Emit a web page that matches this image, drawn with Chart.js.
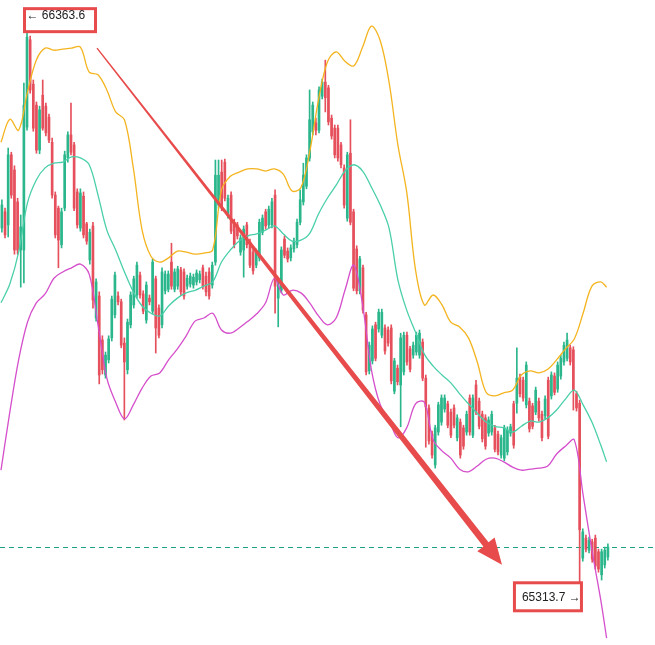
<!DOCTYPE html>
<html><head><meta charset="utf-8">
<script src="https://cdn.jsdelivr.net/npm/chart.js@4/dist/chart.umd.min.js"></script>
<style>html,body{margin:0;padding:0;background:#fff;}#wrap{width:655px;height:645px;position:relative;}</style>
</head><body><div id="wrap"><canvas id="c"></canvas></div>
<script>
// ---- candle data (price) ----
const opens = [65991,66022,65997,66131,66102,66041,65949,65949,66184,66351,66266,66226,66140,66245,66224,66203,66155,66054,66029,65959,66029,66125,66169,66150,66060,65991,66052,65999,65930,65995,65819,65861,65777,65710,65739,65781,65825,65861,65850,65771,65720,65806,65844,65863,65901,65865,65815,65857,65832,65894,65838,65806,65871,65874,65926,65874,65880,65911,65907,65880,65884,65882,65888,65892,65915,65899,65907,65882,65926,66035,66098,66117,66016,66054,66002,65997,65945,65949,65997,65964,65945,65920,65934,65983,66022,65997,65997,66054,65857,65872,65970,65947,65934,65951,65959,66002,66041,66071,66125,66175,
66192,66178,66243,66270,66259,66201,66182,66182,66150,66106,66010,66134,66022,65951,65871,65915,65825,65718,65737,65806,65798,65786,65800,65796,65800,65679,65723,65691,65716,65786,65760,65748,65754,65748,65773,65704,65647,65597,65538,65601,65620,65645,65655,65639,65647,65590,65620,65609,65601,65666,65595,65691,65660,65635,65628,65599,65601,65609,65597,65557,65551,65563,65599,65655,65656,65706,65700,65653,65660,65651,65639,65660,65635,65632,65700,65670,65708,65683,65708,65735,65742,65762,65758,65674,65656,65360,65398,65375,65391,65398,65372,65328,65347,65362];
const highs = [66045,66029,66144,66136,66110,66048,66016,66268,66363.6,66358,66274,66232,66224,66274,66230,66209,66163,66060,66033,66029,66138,66175,66230,66155,66066,66066,66060,66002,65989,66002,65894,65869,65785,65754,65785,65861,65907,65869,65855,65781,65817,65869,65899,65926,65907,65871,65888,65863,65932,65899,65844,65915,65909,65909,65962,65913,65918,65916,65913,65901,65905,65903,65911,65909,65920,65907,65915,65926,66121,66121,66121,66123,66054,66060,66008,66002,65978,65995,66002,65970,65951,65951,66008,66016,66027,66033,66048,66064,65897,65955,65976,65953,65959,65972,66008,66064,66115,66131,66255,66232,
66201,66261,66276,66312,66264,66207,66188,66188,66155,66112,66136,66198,66027,65957,65937,65920,65830,65773,65804,65811,65836,65836,65806,65802,65806,65742,65729,65790,65792,65792,65765,65773,65792,65796,65779,65710,65653,65603,65614,65658,65672,65672,65660,65645,65653,65634,65626,65614,65641,65672,65672,65700,65666,65641,65634,65630,65641,65614,65603,65595,65614,65611,65616,65660,65762,65712,65706,65735,65666,65656,65687,65666,65641,65670,65706,65716,65714,65735,65748,65773,65790,65767,65764,65679,65662,65416,65404,65400,65396,65404,65377,65377,65381,65387];
const lows = [65983,65972,65974,66048,65941,65941,65878,65886,66178,66249,66176,66134,66133,66178,66167,66154,66048,65972,65915,65953,66024,66117,66131,66024,65991,65985,65972,65960,65922,65838,65813,65693,65712,65704,65733,65775,65819,65844,65762,65624,65712,65800,65838,65857,65857,65827,65809,65844,65827,65752,65781,65800,65865,65869,65874,65869,65874,65863,65855,65874,65878,65876,65882,65886,65874,65861,65855,65876,65920,66029,66024,66043,66010,65980,65953,65970,65939,65897,65953,65915,65903,65915,65928,65978,65989,65991,65991,65828,65802,65867,65934,65926,65928,65945,65953,65997,66035,66066,66119,66169,
66169,66173,66238,66213,66188,66161,66125,66119,66106,66029,66004,65997,65871,65865,65865,65828,65710,65712,65731,65737,65792,65781,65750,65765,65693,65674,65691,65611,65710,65729,65716,65742,65748,65742,65699,65572,65578,65551,65532,65595,65614,65639,65609,65590,65609,65584,65551,65568,65595,65595,65590,65634,65607,65582,65568,65593,65595,65563,65557,65551,65546,65557,65593,65570,65637,65668,65660,65647,65601,65607,65634,65622,65584,65626,65588,65664,65672,65677,65702,65729,65737,65729,65643,65641,65313.7,65354,65372,65370,65352,65339,65333,65318,65341,65356];
const closes = [66035,65978,66131,66054,65949,65949,65993,66226,66356,66255,66182,66140,66217,66182,66173,66159,66054,65978,65968,66022,66131,66169,66136,66029,65997,66058,65978,65966,65983,65853,65888,65710,65720,65748,65779,65855,65901,65850,65767,65735,65811,65863,65894,65920,65863,65832,65882,65850,65926,65800,65786,65907,65903,65903,65880,65907,65913,65869,65861,65895,65899,65897,65905,65903,65880,65869,65861,65920,66092,66092,66029,66048,66048,65985,65959,65976,65972,65989,65959,65920,65909,65945,66002,66010,65995,66027,66041,65880,65892,65949,65939,65932,65953,65966,66002,66045,66092,66125,66198,66226,
66178,66255,66270,66240,66194,66167,66131,66125,66112,66035,66131,66002,65876,65871,65932,65834,65716,65767,65798,65742,65830,65830,65756,65771,65699,65737,65697,65781,65786,65735,65721,65767,65786,65790,65704,65649,65584,65557,65609,65653,65666,65666,65614,65595,65614,65628,65557,65574,65635,65601,65666,65639,65612,65588,65574,65624,65635,65568,65563,65590,65609,65605,65611,65576,65704,65674,65666,65729,65607,65612,65681,65628,65590,65664,65593,65710,65677,65729,65742,65767,65777,65735,65681,65647,65414,65410,65377,65394,65358,65345,65339,65372,65375,65381];

// ---- Bollinger bands, sampled at (fractional) candle positions ----
const bandIdx = [-0.29,2.52,5.33,8.14,10.95,13.76,16.57,19.38,22.19,25.0,27.80,30.61,33.42,36.23,39.04,41.85,44.66,47.47,50.27,53.08,55.89,58.70,61.51,64.32,67.13,69.94,72.75,75.55,78.36,81.17,83.98,86.79,89.60,92.41,95.22,98.02,100.83,103.64,106.45,109.26,112.07,114.88,117.69,120.50,123.30,126.11,128.92,131.73,134.54,137.35,140.16,142.97,145.78,148.59,151.39,154.20,157.01,159.82,162.63,165.44,168.25,171.06,173.86,176.67,179.48,182.29,185.10,187.91,190.72,192.59];
const upperBand = [66155,66199,66178,66251,66312,66335,66331,66333,66335,66337,66289,66284,66255,66213,66198,66106,65987,65937,65926,65934,65947,65945,65941,65943,65949,66064,66090,66098,66104,66104,66100,66104,66094,66062,66068,66136,66236,66308,66328,66310,66301,66337,66377,66349,66270,66150,66060,65911,65844,65863,65844,65811,65802,65781,65735,65677,65670,65676,65681,65710,65718,65714,65721,65739,65760,65779,65828,65880,65888,65878];
const middleBand = [65848,65884,65945,66039,66083,66106,66115,66117,66127,66125,66112,66054,65987,65949,65907,65869,65842,65828,65823,65842,65857,65867,65872,65880,65888,65926,65949,65966,65976,65980,65987,65995,65980,65966,65968,65981,66018,66048,66073,66100,66112,66100,66069,66035,65991,65892,65834,65792,65750,65727,65710,65695,65674,65655,65637,65620,65612,65609,65601,65612,65622,65620,65628,65643,65664,65681,65653,65620,65576,65544];
const lowerBand = [65528,65639,65739,65811,65848,65865,65895,65907,65915,65922,65903,65806,65704,65658,65626,65653,65685,65708,65714,65739,65760,65785,65813,65819,65828,65796,65790,65800,65813,65827,65848,65895,65863,65872,65867,65848,65823,65806,65819,65872,65920,65844,65720,65653,65624,65590,65609,65655,65658,65586,65565,65551,65530,65525,65536,65549,65551,65544,65534,65528,65530,65532,65536,65559,65574,65586,65481,65375,65280,65207];

// annotation arrow (candle position, price)
const arrowFrom = {i: 30.29, p: 66335};
const arrowTo = {i: 159.27, p: 65347};

const GREEN = '#2bb68c', RED = '#e5505c';
const YEL = '#f4b41f', MID = '#4acfa9', LOW = '#d54fcc', ANN = '#e84b4b';

const N = opens.length;
const colors = opens.map((o,i)=> closes[i] >= o ? GREEN : RED);
const wickData = opens.map((o,i)=>({x:i, y:[lows[i], highs[i]]}));
const bodyData = opens.map((o,i)=>({x:i, y:[o, closes[i]]}));
const band = arr => bandIdx.map((x,k)=>({x:x, y:arr[k]}));

let hiIdx = 0, loIdx = 0;
highs.forEach((h,i)=>{ if(h>highs[hiIdx]) hiIdx=i; });
lows.forEach((l,i)=>{ if(l<lows[loIdx]) loIdx=i; });

const annot = {
  id:'annot',
  beforeDatasetsDraw(chart){
    const {ctx, scales:{y}, chartArea} = chart;
    const py = Math.round(y.getPixelForValue(closes[N-1])) + 0.5;
    ctx.save();
    ctx.strokeStyle = '#1f9f86'; ctx.lineWidth = 1; ctx.setLineDash([5,4]);
    ctx.beginPath(); ctx.moveTo(chartArea.left, py); ctx.lineTo(chartArea.right, py); ctx.stroke();
    ctx.restore();
  },
  afterDatasetsDraw(chart){
    const {ctx, scales:{x, y}} = chart;
    ctx.save();
    const x1 = x.getPixelForValue(arrowFrom.i), y1 = y.getPixelForValue(arrowFrom.p);
    const x2 = x.getPixelForValue(arrowTo.i), y2 = y.getPixelForValue(arrowTo.p);
    const dx = x2-x1, dy = y2-y1, len = Math.hypot(dx,dy);
    const ux = dx/len, uy = dy/len, nx = -uy, ny = ux;
    const headLen = 26, headHalf = 11, w0 = 0.7, w1 = 3.3;
    const bx = x2-ux*headLen, by = y2-uy*headLen;
    ctx.fillStyle = ANN;
    ctx.beginPath();
    ctx.moveTo(x1+nx*w0, y1+ny*w0);
    ctx.lineTo(bx+nx*w1, by+ny*w1);
    ctx.lineTo(bx+nx*headHalf, by+ny*headHalf);
    ctx.lineTo(x2, y2);
    ctx.lineTo(bx-nx*headHalf, by-ny*headHalf);
    ctx.lineTo(bx-nx*w1, by-ny*w1);
    ctx.lineTo(x1-nx*w0, y1-ny*w0);
    ctx.closePath(); ctx.fill();

    ctx.font = '12px "Liberation Sans", Arial, sans-serif';
    ctx.textBaseline = 'middle';
    ctx.textAlign = 'left';
    // high label
    const hx = x.getPixelForValue(hiIdx), hy = y.getPixelForValue(highs[hiIdx]);
    ctx.fillStyle = '#fff';
    ctx.fillRect(hx-2.5, hy-24.5, 71, 23);
    ctx.strokeStyle = ANN; ctx.lineWidth = 3;
    ctx.strokeRect(hx-2.5, hy-24.5, 71, 23);
    ctx.fillStyle = '#222';
    ctx.fillText('\u2190 ' + highs[hiIdx].toFixed(1), hx-0.5, hy-17);
    // low label
    const lx = x.getPixelForValue(loIdx), ly = y.getPixelForValue(lows[loIdx]);
    ctx.fillStyle = '#fff';
    ctx.fillRect(lx-65.2, ly+0.5, 67, 28);
    ctx.strokeStyle = ANN;
    ctx.strokeRect(lx-65.2, ly+0.5, 67, 28);
    ctx.fillStyle = '#222';
    ctx.fillText(lows[loIdx].toFixed(1) + ' \u2192', lx-57.7, ly+15);
    ctx.restore();
  }
};

new Chart(document.getElementById('c'), {
  type: 'bar',
  data: { datasets: [
    {type:'line', label:'Upper', data: band(upperBand), borderColor: YEL, borderWidth: 1.3, pointRadius: 0, tension: 0.35, fill: false, order: 0},
    {type:'line', label:'Middle', data: band(middleBand), borderColor: MID, borderWidth: 1.3, pointRadius: 0, tension: 0.35, fill: false, order: 0},
    {type:'line', label:'Lower', data: band(lowerBand), borderColor: LOW, borderWidth: 1.3, pointRadius: 0, tension: 0.35, fill: false, order: 0},
    {type:'bar', label:'Body', data: bodyData, backgroundColor: colors, barThickness: 2, minBarLength: 1, grouped: false, order: 1},
    {type:'bar', label:'Wick', data: wickData, backgroundColor: colors, barThickness: 1, minBarLength: 1, grouped: false, order: 2}
  ]},
  options: {
    responsive: true, maintainAspectRatio: false, animation: false,
    layout: {padding: 0},
    plugins: {legend: {display: false}, tooltip: {enabled: false}},
    scales: {
      x: {type: 'linear', min: -0.605, max: 208.0, display: false, offset: false},
      y: {min: 65193.8, max: 66427, display: false}
    }
  },
  plugins: [annot]
});
</script>
</body></html>
